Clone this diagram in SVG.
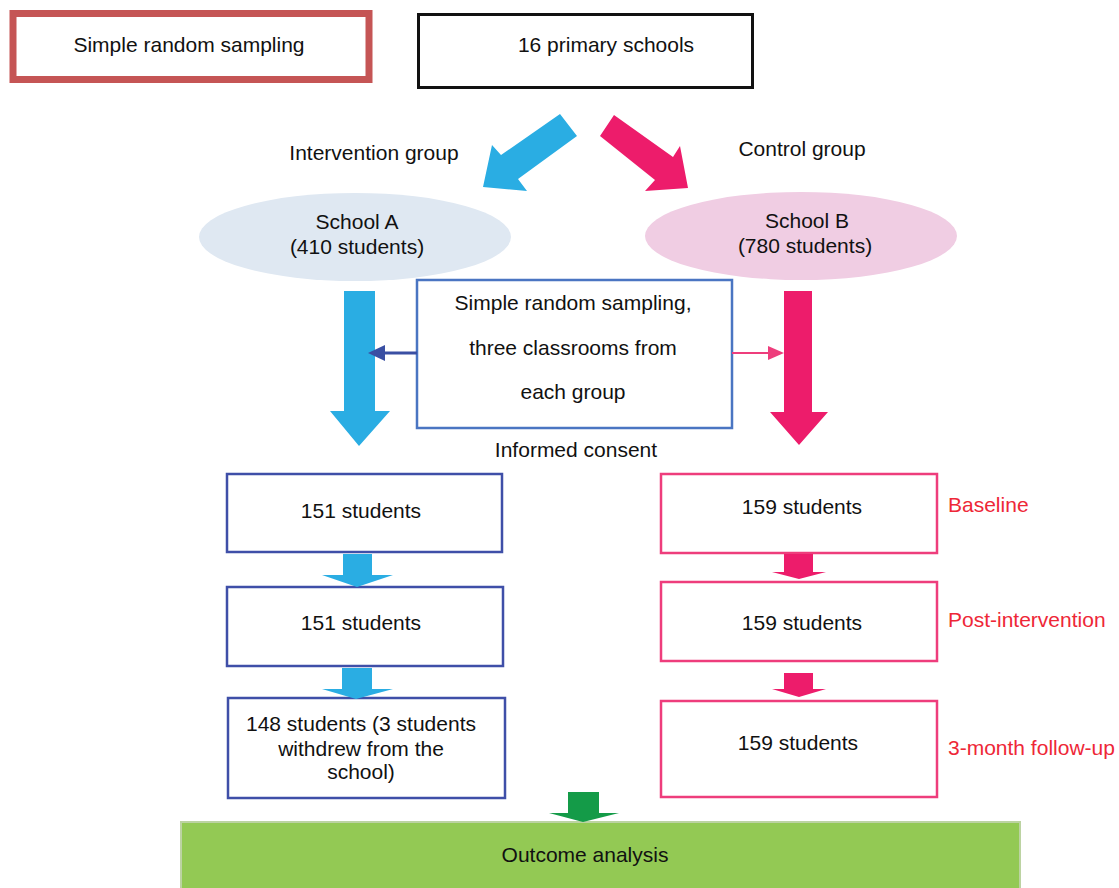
<svg xmlns="http://www.w3.org/2000/svg" width="1119" height="888" viewBox="0 0 1119 888">
<style>
text{font-family:"Liberation Sans",Arial,sans-serif;font-size:21px;fill:#111;text-anchor:middle}
.lab{fill:#ee2737;text-anchor:start}
.bbox{fill:#fff;stroke:#3f4fa8;stroke-width:2.5}
.pbox{fill:#fff;stroke:#ee3d7c;stroke-width:2.5}
.blue{fill:#2aade3}
.pink{fill:#ed1c6b}
</style>
<rect width="1119" height="888" fill="#fff"/>
<g id="srs">
<rect x="13" y="13.5" width="356" height="66" fill="#fff" stroke="#c55555" stroke-width="7"/>
<text x="189" y="52">Simple random sampling</text>
</g>
<g id="schools16">
<rect x="418.5" y="14.5" width="334" height="73" fill="#fff" stroke="#111" stroke-width="3"/>
<text x="606" y="52">16 primary schools</text>
</g>
<g id="lbl-intervention"><text x="374" y="160">Intervention group</text></g>
<g id="lbl-control"><text x="802" y="156">Control group</text></g>
<g id="schoolA">
<ellipse cx="355" cy="237" rx="156" ry="44" fill="#dfe8f2"/>
<text x="357" y="229">School A</text>
<text x="357" y="254">(410 students)</text>
</g>
<g id="schoolB">
<ellipse cx="801" cy="236" rx="156" ry="44" fill="#f0cde3"/>
<text x="807" y="228">School B</text>
<text x="805" y="253">(780 students)</text>
</g>
<g id="sampling">
<rect x="417" y="280" width="315" height="148" fill="#fff" stroke="#4a75c2" stroke-width="2.5"/>
<text x="573" y="310">Simple random sampling,</text>
<text x="573" y="355">three classrooms from</text>
<text x="573" y="399">each group</text>
</g>
<g id="lbl-consent"><text x="576" y="457">Informed consent</text></g>
<g id="a1"><rect x="227" y="474" width="275" height="78" class="bbox"/><text x="361" y="518">151 students</text></g>
<g id="a2"><rect x="227" y="587" width="276" height="79" class="bbox"/><text x="361" y="630">151 students</text></g>
<g id="a3"><rect x="228" y="698" width="277" height="100" class="bbox"/>
<text x="361" y="731">148 students (3 students</text>
<text x="361" y="756">withdrew from the</text>
<text x="361" y="779">school)</text></g>
<g id="b1"><rect x="661" y="474" width="276" height="79" class="pbox"/><text x="802" y="514">159 students</text></g>
<g id="b2"><rect x="661" y="582" width="276" height="79" class="pbox"/><text x="802" y="630">159 students</text></g>
<g id="b3"><rect x="661" y="701" width="276" height="96" class="pbox"/><text x="798" y="750">159 students</text></g>
<g id="lbl-baseline"><text class="lab" x="948" y="512">Baseline</text></g>
<g id="lbl-post"><text class="lab" x="948" y="627">Post-intervention</text></g>
<g id="lbl-follow"><text class="lab" x="948" y="755">3-month follow-up</text></g>
<g id="outcome">
<rect x="181" y="822" width="839" height="70" fill="#93c954" stroke="#bcd3a2" stroke-width="2"/>
<text x="585" y="862">Outcome analysis</text>
</g>
<g id="connectors">
<polygon class="blue" points="560,114 577,136 518,179 527,191 483,187 492,145 501,155"/>
<polygon class="pink" points="614,115 673,157 680,146 688,188 645,191 655,180 600,136"/>
<polygon class="blue" points="344,291 375,291 375,411 390,411 359,446 330,411 344,411"/>
<polygon class="pink" points="784,291 812,291 812,412 828,412 799,445 770,412 784,412"/>
<line x1="417" y1="353" x2="383" y2="353" stroke="#3a4fa3" stroke-width="3"/>
<polygon points="368,353 385,345 385,361" fill="#3a4fa3"/>
<line x1="732" y1="353" x2="772" y2="353" stroke="#ee3d7c" stroke-width="2"/>
<polygon points="784,353 768,346 768,360" fill="#ee3d7c"/>
<polygon class="blue" points="343,554 372,554 372,575 393,575 357,587 322,575 343,575"/>
<polygon class="blue" points="342,668 372,668 372,689 393,689 356,699 322,689 342,689"/>
<polygon class="pink" points="784,554 813,554 813,572 826,572 799,579 772,572 784,572"/>
<polygon class="pink" points="784,673 813,673 813,689 826,689 799,697 772,689 784,689"/>
<polygon fill="#149b48" points="568,792 599,792 599,813 619,813 583,822 549,813 568,813"/>
</g>
</svg>
